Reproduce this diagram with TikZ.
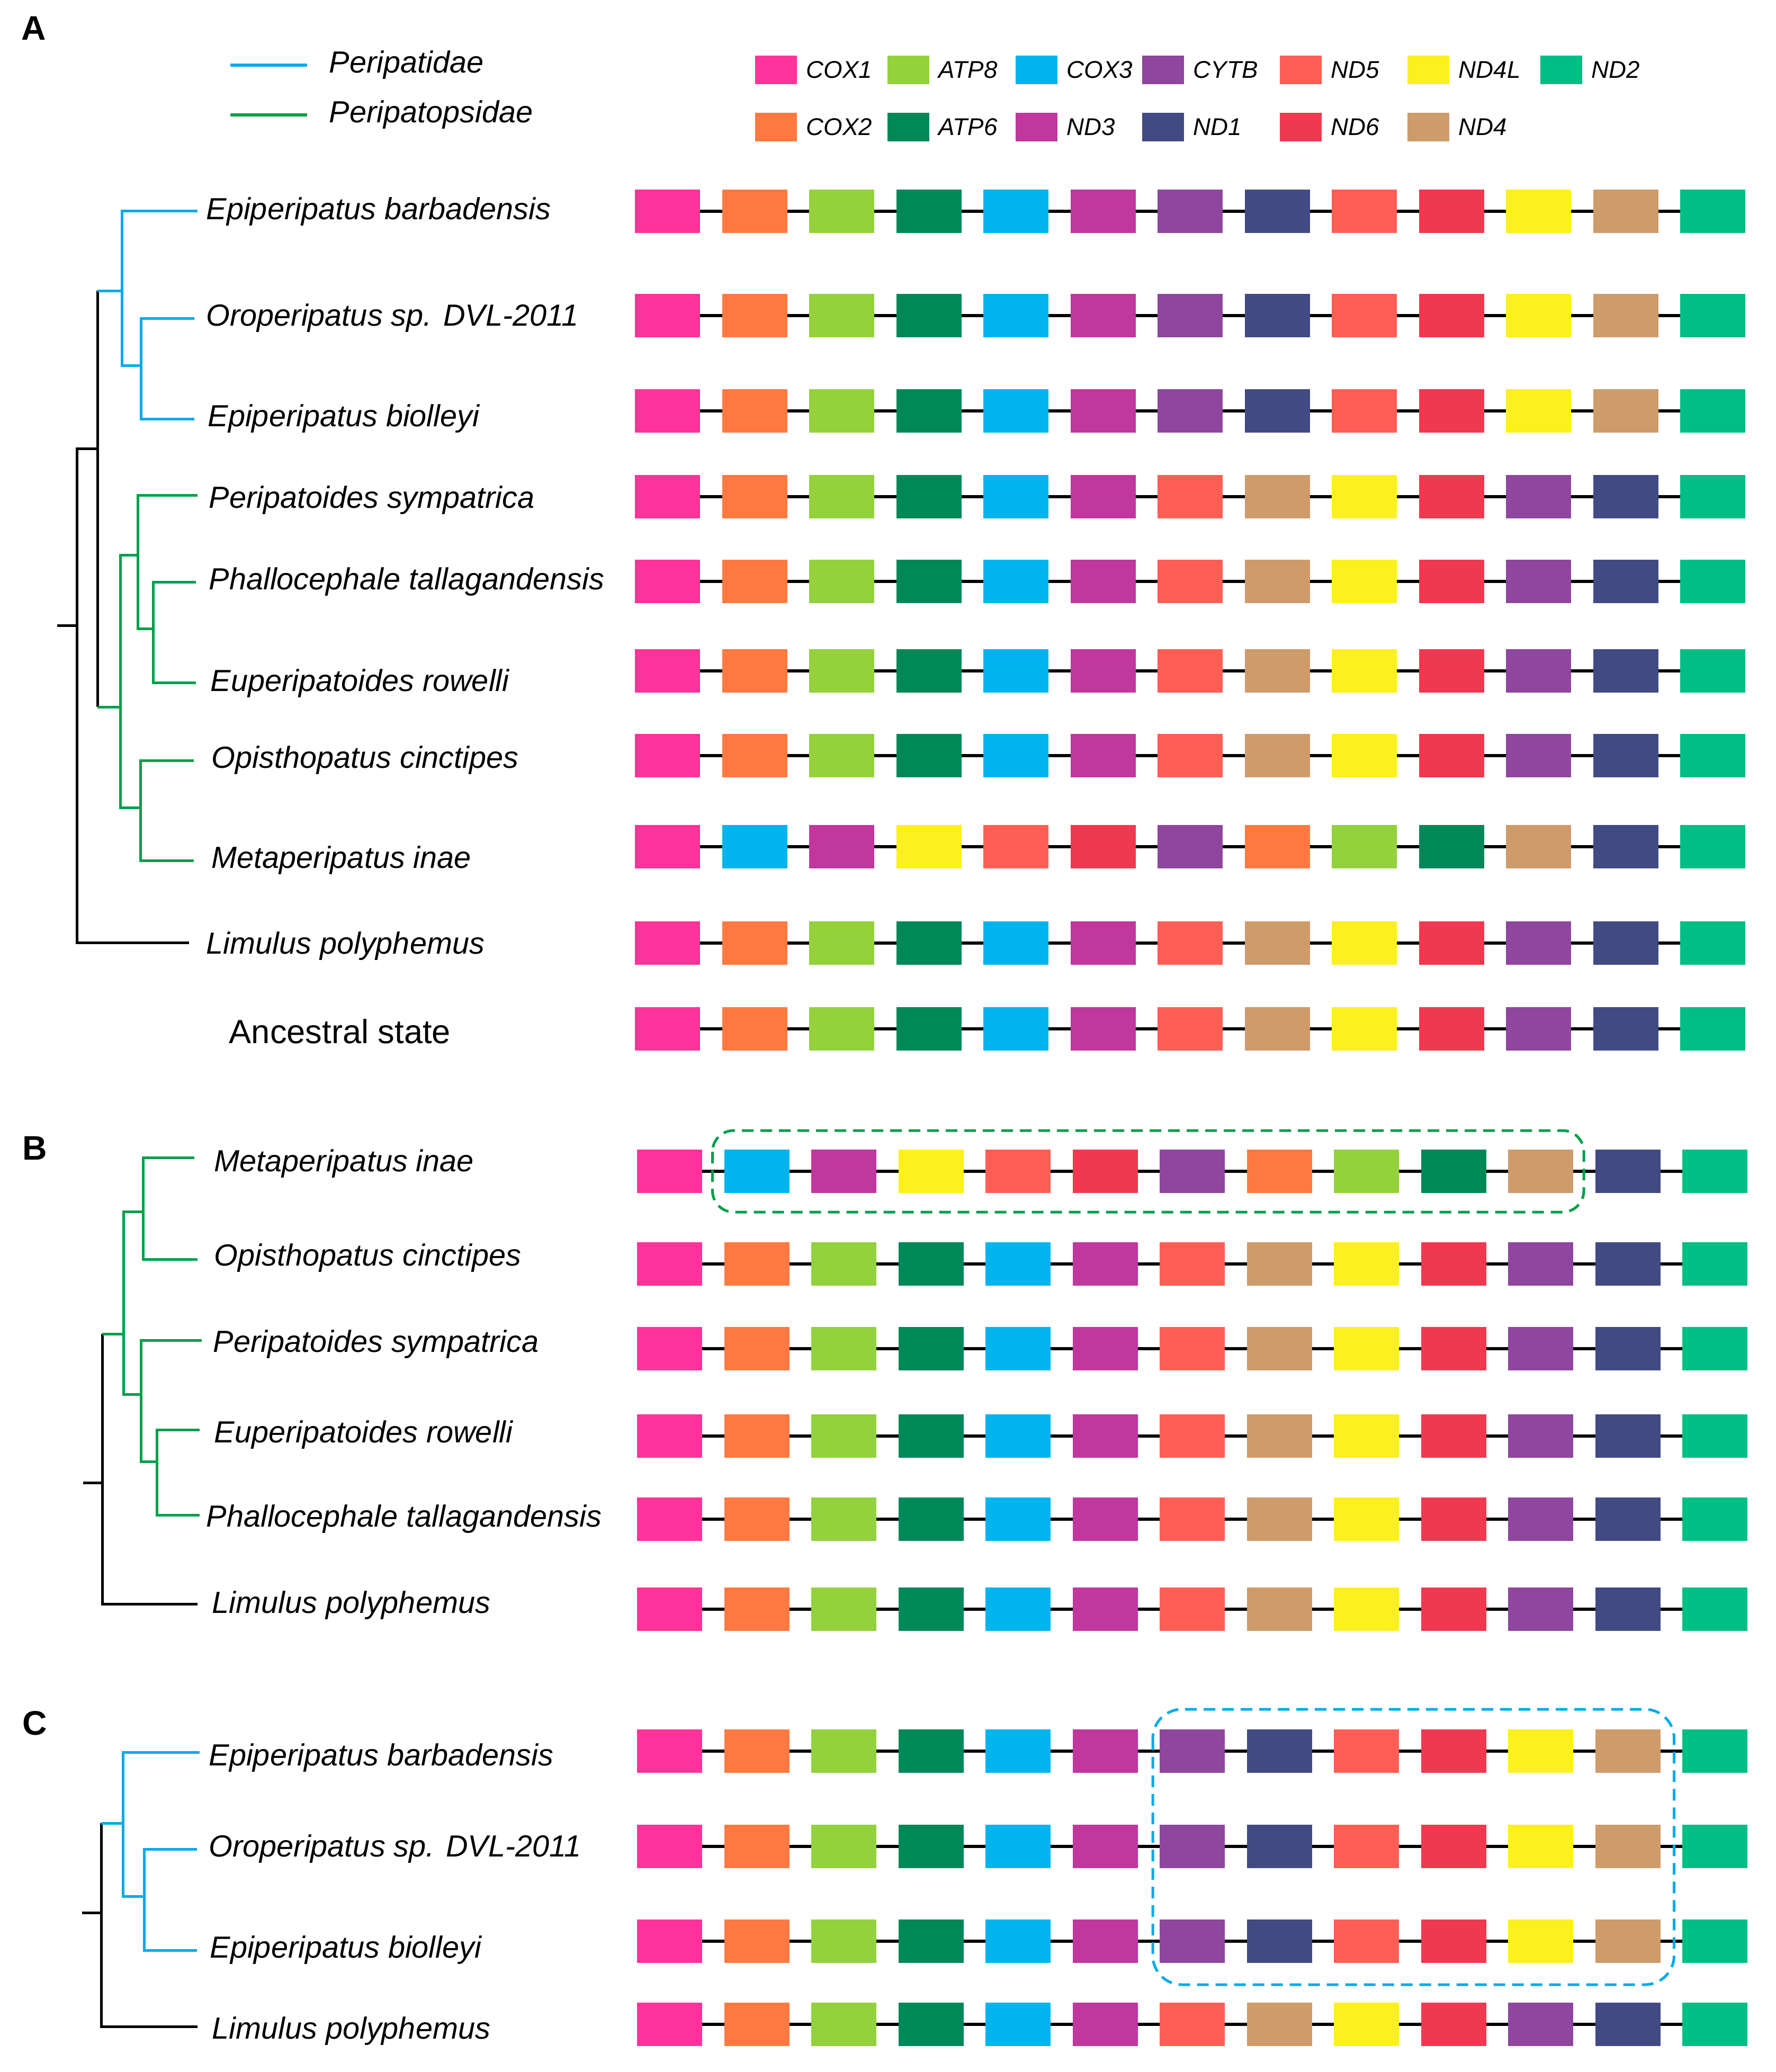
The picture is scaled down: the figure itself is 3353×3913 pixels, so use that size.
\documentclass[tikz,border=0pt]{standalone}
\usepackage{fontspec}
\setmainfont{Liberation Sans}
\usetikzlibrary{positioning}

\definecolor{cox1}{HTML}{FF3399}
\definecolor{cox2}{HTML}{FF7940}
\definecolor{atp8}{HTML}{93D13D}
\definecolor{atp6}{HTML}{008858}
\definecolor{cox3}{HTML}{00B4EE}
\definecolor{nd3}{HTML}{C0379E}
\definecolor{cytb}{HTML}{8E469E}
\definecolor{nd1}{HTML}{424A84}
\definecolor{nd5}{HTML}{FF5E55}
\definecolor{nd6}{HTML}{EF3950}
\definecolor{nd4l}{HTML}{FCF01F}
\definecolor{nd4}{HTML}{CE9B6B}
\definecolor{nd2}{HTML}{00BE84}
\definecolor{peri}{HTML}{00AAEA}
\definecolor{psid}{HTML}{00A04A}

\newcommand{\ancorder}{cox1,cox2,atp8,atp6,cox3,nd3,nd5,nd4,nd4l,nd6,cytb,nd1,nd2}
\newcommand{\periorder}{cox1,cox2,atp8,atp6,cox3,nd3,cytb,nd1,nd5,nd6,nd4l,nd4,nd2}
\newcommand{\metaorder}{cox1,cox3,nd3,nd4l,nd5,nd6,cytb,cox2,atp8,atp6,nd4,nd1,nd2}

% one gene order: name, left x, y, list
\newcommand{\mtrow}[4]{
	\foreach \g [count=\k] in #4 {
		\node[gene, fill=\g] (#1-\k) at ({#2+(\k-1)*164.5}, #3) {};
	}
	\foreach \k [evaluate=\k as \j using int(\k+1)] in {1,...,12} {
		\draw[link] (#1-\k.east) -- (#1-\j.west);
	}
}

\begin{document}
\begin{tikzpicture}[x=0.1mm, y=-0.1mm,
	gene/.style={rectangle, anchor=west, inner sep=0pt, outer sep=0pt, minimum width=12.3mm, minimum height=8.2mm},
	lgbox/.style={rectangle, anchor=west, inner sep=0pt, outer sep=0pt, minimum width=7.9mm, minimum height=5.4mm},
	link/.style={draw=black, line width=0.6mm},
	blk/.style={draw=black, line width=0.5mm},
	blu/.style={draw=peri, line width=0.5mm},
	grn/.style={draw=psid, line width=0.5mm},
	sp/.style={anchor=west, inner sep=0pt, font=\fontsize{16.4}{19}\selectfont\itshape},
	glab/.style={anchor=west, inner sep=0pt, font=\fontsize{13}{15}\selectfont\itshape},
	panel/.style={anchor=base west, inner sep=0pt, font=\fontsize{18.3}{22}\selectfont\bfseries}]
	\useasboundingbox (0,0) rectangle (3353,3913);

	\node[panel] (pA) at (40,75) {A};
	\node[panel] (pB) at (42,2190) {B};
	\node[panel] (pC) at (42,3276) {C};

	\coordinate (lg1) at (435,123);
	\coordinate (lg2) at (580,123);
	\coordinate (lg3) at (435,217);
	\coordinate (lg4) at (580,217);
	\draw[blu, line width=0.6mm] (lg1) -- (lg2);
	\draw[grn, line width=0.6mm] (lg3) -- (lg4);
	\node[sp, right=4.1mm of lg2] (lgt1) {Peripatidae};
	\node[sp, right=4.1mm of lg4] (lgt2) {Peripatopsidae};

	\foreach \g/\t/\x/\y in {cox1/COX1/1426/132, atp8/ATP8/1676/132, cox3/COX3/1918/132,
		cytb/CYTB/2157/132, nd5/ND5/2417/132, nd4l/ND4L/2658/132, nd2/ND2/2909/132,
		cox2/COX2/1426/240, atp6/ATP6/1676/240, nd3/ND3/1918/240, nd1/ND1/2157/240,
		nd6/ND6/2417/240, nd4/ND4/2658/240} {
		\node[lgbox, fill=\g] (lg\g) at (\x,\y) {};
		\node[glab, right=1.7mm of lg\g] (lt\g) {\t};
	}

	% tree A
	\coordinate (a0) at (108,1181);
	\coordinate (a1) at (145,1181);
	\coordinate (aIn) at (184,847);
	\coordinate (aInT) at (184,549);
	\coordinate (aInB) at (184,1335);
	\coordinate (aPa) at (230,549);
	\coordinate (aOb) at (266,690);
	\coordinate (aPo) at (227,1335);
	\coordinate (aS1) at (260,1048);
	\coordinate (aS2) at (265,1525);
	\coordinate (aS3) at (289,1187);
	\coordinate (tA1) at (373,398);
	\coordinate (tA2) at (367,601);
	\coordinate (tA3) at (367,791);
	\coordinate (tA4) at (373,935);
	\coordinate (tA5) at (370,1099);
	\coordinate (tA6) at (370,1289);
	\coordinate (tA7) at (366,1436);
	\coordinate (tA8) at (366,1625);
	\coordinate (tA9) at (357,1780);
	\draw[blk] (a0) -- (a1) (a1) |- (aIn) (a1) |- (tA9);
	\draw[blk] (aInT) -- (aInB);
	\draw[blu] (aInT) -- (aPa) (aPa) |- (tA1) (aPa) |- (aOb);
	\draw[blu] (aOb) |- (tA2) (aOb) |- (tA3);
	\draw[grn] (aInB) -- (aPo) (aPo) |- (aS1) (aPo) |- (aS2);
	\draw[grn] (aS1) |- (tA4) (aS1) |- (aS3);
	\draw[grn] (aS3) |- (tA5) (aS3) |- (tA6);
	\draw[grn] (aS2) |- (tA7) (aS2) |- (tA8);
	\node[sp] (lA1) at (389,400) {Epiperipatus barbadensis};
	\node[sp] (lA2) at (389,601) {Oroperipatus sp. DVL-2011};
	\node[sp] (lA3) at (392,791) {Epiperipatus biolleyi};
	\node[sp] (lA4) at (394,945) {Peripatoides sympatrica};
	\node[sp] (lA5) at (394,1099) {Phallocephale tallagandensis};
	\node[sp] (lA6) at (397,1291) {Euperipatoides rowelli};
	\node[sp] (lA7) at (399,1436) {Opisthopatus cinctipes};
	\node[sp] (lA8) at (399,1625) {Metaperipatus inae};
	\node[sp] (lA9) at (389,1787) {Limulus polyphemus};
	\node[sp, font=\fontsize{18}{21}\selectfont] (lA10) at (432,1948) {Ancestral state};

	\mtrow{a1}{1199}{399}{\periorder}
	\mtrow{a2}{1199}{596}{\periorder}
	\mtrow{a3}{1199}{776}{\periorder}
	\mtrow{a4}{1199}{938}{\ancorder}
	\mtrow{a5}{1199}{1098}{\ancorder}
	\mtrow{a6}{1199}{1267}{\ancorder}
	\mtrow{a7}{1199}{1427}{\ancorder}
	\mtrow{a8}{1199}{1599}{\metaorder}
	\mtrow{a9}{1199}{1781}{\ancorder}
	\mtrow{a10}{1199}{1943}{\ancorder}

	% tree B
	\coordinate (b0) at (157,2800);
	\coordinate (b1) at (193,2800);
	\coordinate (bIn) at (193,2519);
	\coordinate (bPo) at (233,2519);
	\coordinate (bS1) at (270,2288);
	\coordinate (bS2) at (266,2633);
	\coordinate (bS3) at (296,2760);
	\coordinate (tB1) at (367,2186);
	\coordinate (tB2) at (373,2378);
	\coordinate (tB3) at (381,2531);
	\coordinate (tB4) at (377,2700);
	\coordinate (tB5) at (377,2861);
	\coordinate (tB6) at (373,3029);
	\draw[blk] (b0) -- (b1) (b1) -- (bIn) (b1) |- (tB6);
	\draw[grn] (bIn) -- (bPo) (bPo) |- (bS1) (bPo) |- (bS2);
	\draw[grn] (bS1) |- (tB1) (bS1) |- (tB2);
	\draw[grn] (bS2) |- (tB3) (bS2) |- (bS3);
	\draw[grn] (bS3) |- (tB4) (bS3) |- (tB5);
	\node[sp] (lB1) at (404,2198) {Metaperipatus inae};
	\node[sp] (lB2) at (404,2376) {Opisthopatus cinctipes};
	\node[sp] (lB3) at (402,2539) {Peripatoides sympatrica};
	\node[sp] (lB4) at (404,2710) {Euperipatoides rowelli};
	\node[sp] (lB5) at (389,2869) {Phallocephale tallagandensis};
	\node[sp] (lB6) at (400,3032) {Limulus polyphemus};

	\mtrow{b1}{1203}{2212}{\metaorder}
	\mtrow{b2}{1203}{2387}{\ancorder}
	\mtrow{b3}{1203}{2547}{\ancorder}
	\mtrow{b4}{1203}{2712}{\ancorder}
	\mtrow{b5}{1203}{2869}{\ancorder}
	\mtrow{b6}{1203}{3039}{\ancorder}
	\draw[psid, line width=0.5mm, dash pattern=on 2.2mm off 1.3mm, rounded corners=4mm]
		([shift={(-22,-36)}]b1-2.north west) rectangle ([shift={(20,36)}]b1-11.south east);

	% tree C
	\coordinate (c0) at (155,3612);
	\coordinate (c1) at (191,3612);
	\coordinate (cIn) at (191,3443);
	\coordinate (cPa) at (232,3443);
	\coordinate (cOb) at (272,3581);
	\coordinate (tC1) at (377,3309);
	\coordinate (tC2) at (372,3492);
	\coordinate (tC3) at (372,3683);
	\coordinate (tC4) at (373,3827);
	\draw[blk] (c0) -- (c1) (c1) -- (cIn) (c1) |- (tC4);
	\draw[blu] (cIn) -- (cPa) (cPa) |- (tC1) (cPa) |- (cOb);
	\draw[blu] (cOb) |- (tC2) (cOb) |- (tC3);
	\node[sp] (lC1) at (394,3320) {Epiperipatus barbadensis};
	\node[sp] (lC2) at (394,3492) {Oroperipatus sp. DVL-2011};
	\node[sp] (lC3) at (396,3683) {Epiperipatus biolleyi};
	\node[sp] (lC4) at (400,3836) {Limulus polyphemus};

	\mtrow{c1}{1203}{3307}{\periorder}
	\mtrow{c2}{1203}{3487}{\periorder}
	\mtrow{c3}{1203}{3666}{\periorder}
	\mtrow{c4}{1203}{3823}{\ancorder}
	\draw[peri, line width=0.5mm, dash pattern=on 2.2mm off 1.3mm, rounded corners=5.5mm]
		([shift={(-13,-38)}]c1-7.north west) rectangle ([shift={(26,41)}]c3-12.south east);
\end{tikzpicture}
\end{document}
